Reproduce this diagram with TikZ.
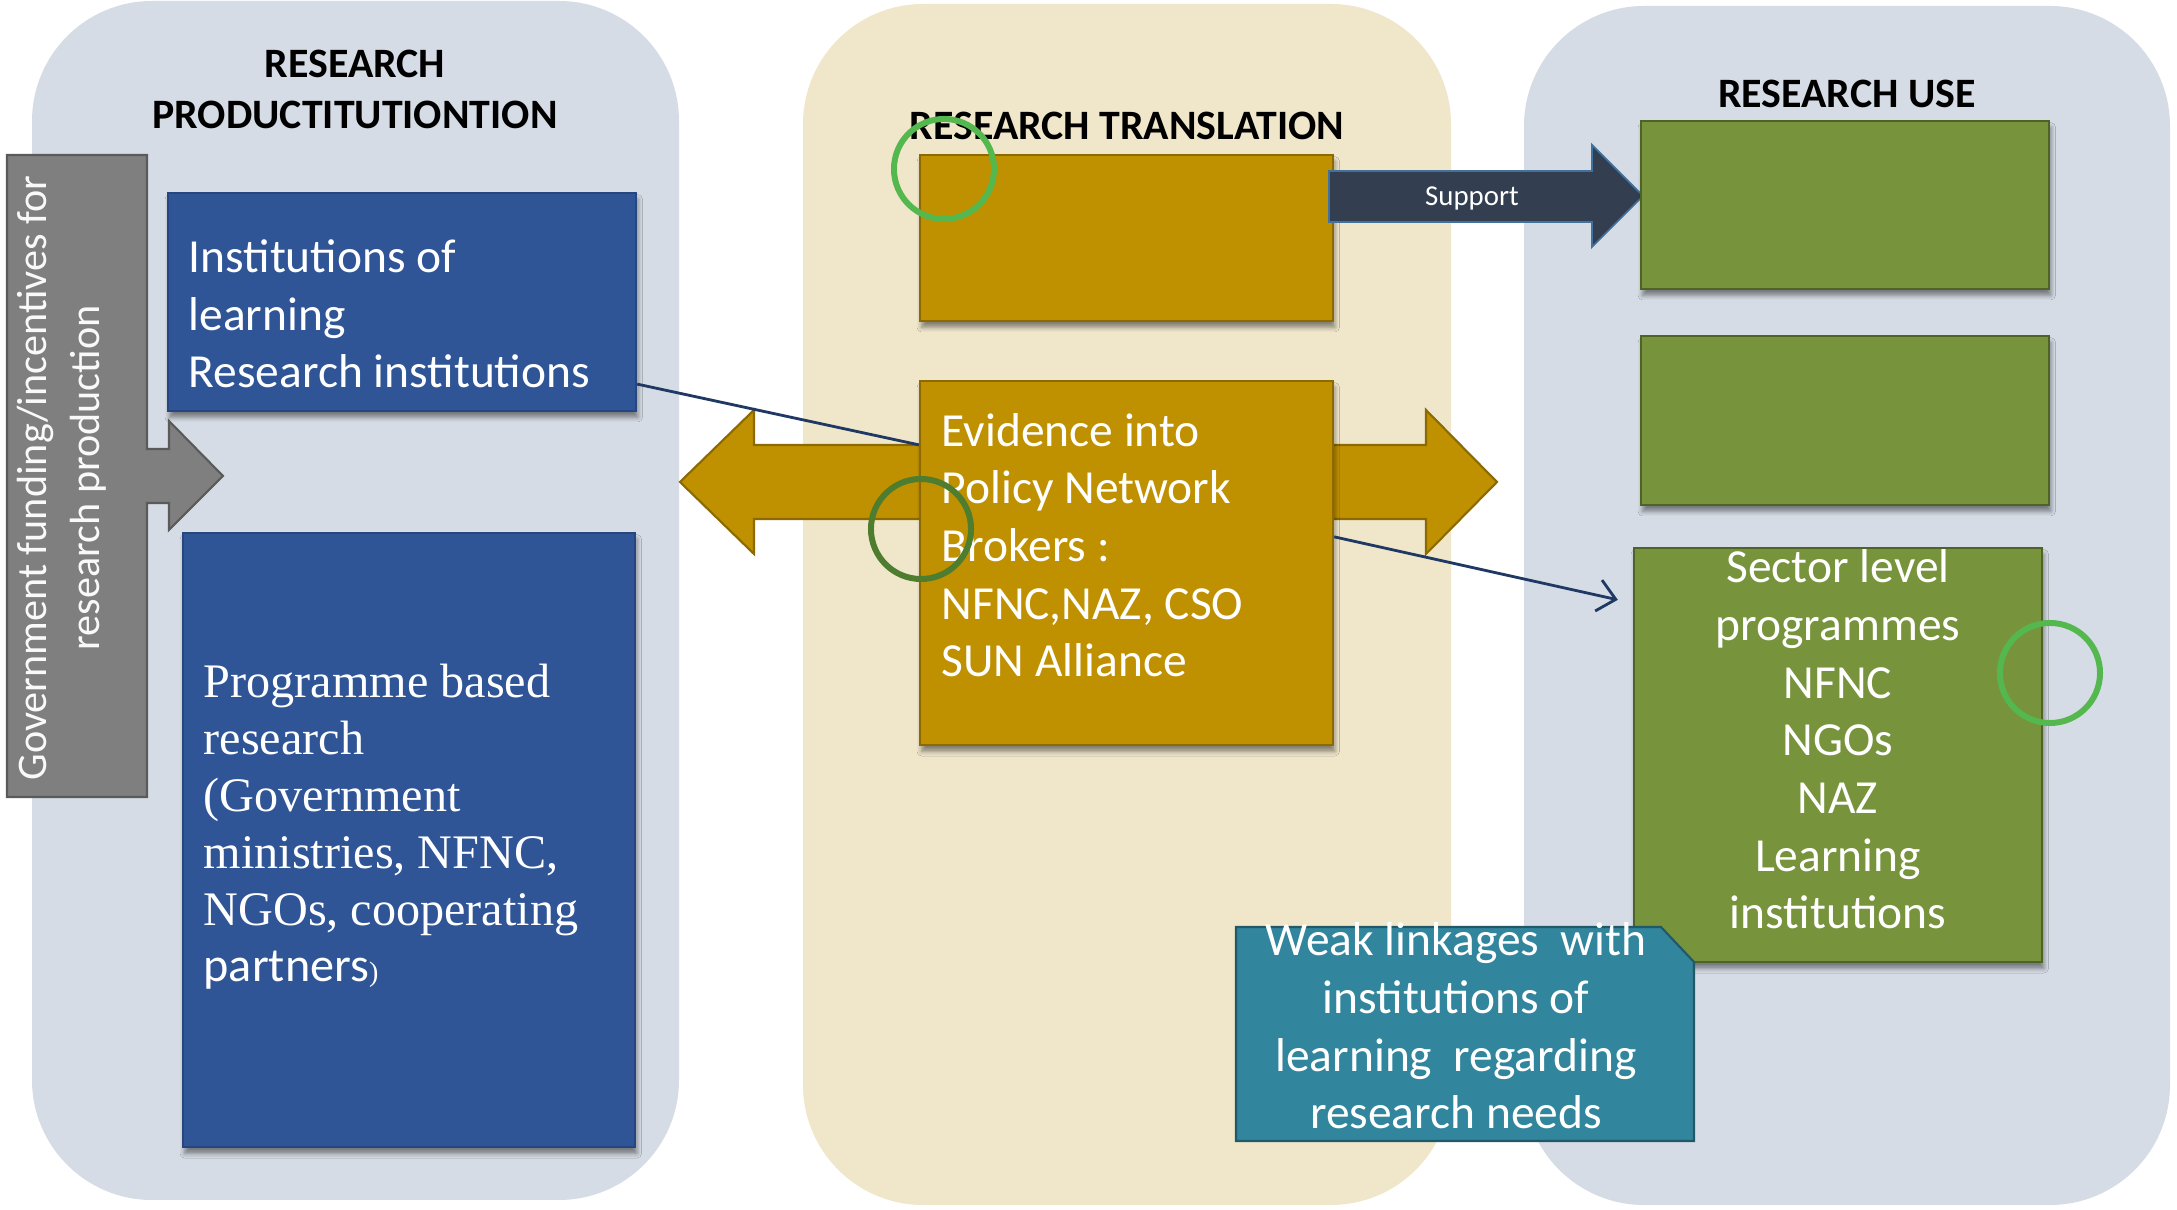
\documentclass[tikz,border=0pt]{standalone}
\usepackage{fontspec}
\setmainfont{Carlito}
\newfontfamily\tnr{Liberation Serif}
\newfontfamily\carl{Carlito}
\usetikzlibrary{arrows.meta,calc,shadows.blur}
\definecolor{panelblue}{HTML}{D6DCE5}
\definecolor{panelcream}{HTML}{F0E7CB}
\definecolor{boxblue}{HTML}{2F5597}
\definecolor{boxblueline}{HTML}{25467E}
\definecolor{boxgold}{HTML}{BF9000}
\definecolor{boxgoldline}{HTML}{8C6A00}
\definecolor{boxgreen}{HTML}{77933C}
\definecolor{boxgreenline}{HTML}{4F6228}
\definecolor{boxteal}{HTML}{31859C}
\definecolor{boxtealline}{HTML}{215968}
\definecolor{boxgray}{HTML}{7F7F7F}
\definecolor{boxgrayline}{HTML}{5A5A5A}
\definecolor{navy}{HTML}{333F50}
\definecolor{navyline}{HTML}{41719C}
\definecolor{connline}{HTML}{1F3864}
\definecolor{ringlight}{HTML}{55B84F}
\definecolor{ringdark}{HTML}{4E7D2F}
\begin{document}
\begin{tikzpicture}[x=0.01cm,y=-0.01cm,
  shade box/.style={blur shadow={shadow xshift=0.5pt,shadow yshift=-1.8pt,shadow blur radius=1.3pt,shadow opacity=45}},
  bluebox/.style={draw=boxblueline,fill=boxblue,line width=0.6pt,shade box,inner sep=0pt},
  goldbox/.style={draw=boxgoldline,fill=boxgold,line width=0.6pt,shade box,inner sep=0pt},
  greenbox/.style={draw=boxgreenline,fill=boxgreen,line width=0.6pt,shade box,inner sep=0pt},
  bodytext/.style={text=white,inner sep=0pt,font=\fontsize{13.5}{16.4}\selectfont},
  titletext/.style={text=black,inner sep=0pt,align=center,font=\bfseries\fontsize{11.9}{14.65}\selectfont},
  conn/.style={draw=connline,line width=0.8pt},
  ring/.style={draw,line width=1.7pt,circle,minimum size=1.0cm,inner sep=0pt}]
\useasboundingbox[fill=white] (0,0) rectangle (2177,1210);

% panels
\fill[panelblue,rounded corners=1.2cm] (32,1) rectangle (679,1200);
\fill[panelcream,rounded corners=1.2cm] (803,4) rectangle (1451,1205);
\fill[panelblue,rounded corners=1.2cm] (1524,6) rectangle (2170,1205);

% titles (base = baseline of last line)
\node[titletext,anchor=base] (ttprod) at (355,129) {RESEARCH\\PRODUCTITUTIONTION};
\node[titletext,anchor=base] (tttrans) at (1127,140) {RESEARCH TRANSLATION};
\node[titletext,anchor=base] (ttuse) at (1847,108) {RESEARCH USE};

% gold double arrow
\filldraw[fill=boxgold,draw=boxgoldline,line width=0.6pt]
  (680,482) -- (754,410) -- (754,445) -- (1426,445) -- (1426,410) -- (1497,482)
  -- (1426,554) -- (1426,519) -- (754,519) -- (754,554) -- cycle;

% gold boxes
\node[goldbox,minimum width=4.13cm,minimum height=1.66cm] (g1) at (1126.5,238) {};
\node[goldbox,minimum width=4.13cm,minimum height=3.64cm] (g2) at (1126.5,563) {};
\node[bodytext,anchor=base west,align=left] (g2t) at (941,677)
  {Evidence into\\Policy Network\\Brokers :\\NFNC,NAZ, CSO\\SUN Alliance};

% support arrow
\filldraw[fill=navy,draw=navyline,line width=0.5pt]
  (1329,171) -- (1592,171) -- (1592,145) -- (1643,196) -- (1592,247) -- (1592,222) -- (1329,222) -- cycle;
\node[text=white,inner sep=0pt,anchor=base,font=\fontsize{8.2}{10}\selectfont] (sup) at (1472,206) {Support};

% green boxes
\node[greenbox,minimum width=4.08cm,minimum height=1.68cm] (gr1) at (1845,205) {};
\node[greenbox,minimum width=4.08cm,minimum height=1.69cm] (gr2) at (1845,420.5) {};
\node[greenbox,minimum width=4.08cm,minimum height=4.14cm] (gr3) at (1838,755) {};
\node[bodytext,anchor=base,align=center] (gr3t) at (1838,929)
  {Sector level\\programmes\\NFNC\\NGOs\\NAZ\\Learning\\institutions};

% blue boxes
\node[bluebox,minimum width=4.68cm,minimum height=2.18cm] (b1) at (402,302) {};
\node[bodytext,anchor=base west,align=left] (b1t) at (188,388)
  {Institutions of\\learning\\Research institutions};
\node[bluebox,minimum width=4.52cm,minimum height=6.14cm] (b2) at (409,840) {};
\node[text=white,inner sep=0pt,anchor=base west,align=left,font=\tnr\fontsize{13.7}{16.2}\selectfont] (b2t) at (203,982)
  {Programme based\\research\\(Government\\ministries, NFNC,\\NGOs, cooperating\\{\carl partners}{\fontsize{8}{9}\selectfont)}};

% gray callout
\filldraw[fill=boxgray,draw=boxgrayline,line width=0.6pt]
  (7,155) -- (147,155) -- (147,449) -- (169,449) -- (169,421) -- (223,476) -- (169,530)
  -- (169,503) -- (147,503) -- (147,797) -- (7,797) -- cycle;
\node[text=white!95!gray,inner sep=0pt,anchor=base,align=center,rotate=90,font=\fontsize{12}{15.1}\selectfont] (grayt) at (100,478)
  {Government funding/incentives for\\research production};

% connectors
\draw[conn] ($(b1.south east)+(0,-28)$) -- ($(g2.north west)+(0,65)$);
\draw[conn,-{Straight Barb[length=5pt,width=9pt]}] ($(g2.north east)+(0,157)$) -- ($(gr3.north west)+(-15,53)$);

% teal callout
\filldraw[fill=boxteal,draw=boxtealline,line width=0.6pt]
  (1236,927) -- (1661,927) -- (1694,962) -- (1694,1141) -- (1236,1141) -- cycle;
\node[bodytext,anchor=base,align=center] (tealt) at (1456,1129)
  {Weak linkages\ \ with\\institutions of\\learning\ \ regarding\\research needs};

% rings
\node[ring,draw=ringlight] (c1) at (944,169) {};
\node[ring,draw=ringdark] (c2) at (921,529) {};
\node[ring,draw=ringlight] (c3) at (2050,673) {};
\end{tikzpicture}
\end{document}
